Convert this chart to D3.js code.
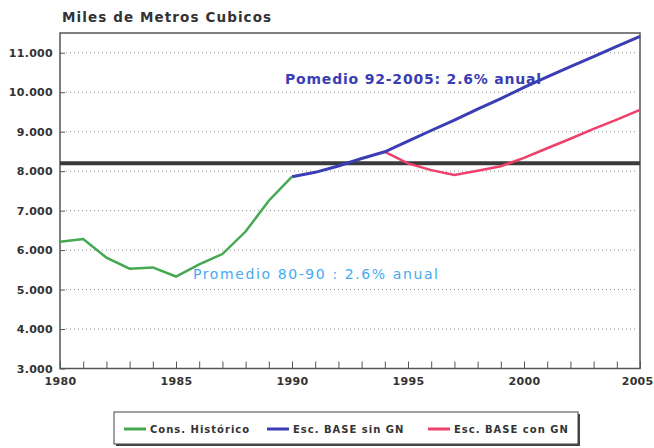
<!DOCTYPE html>
<html>
<head>
<meta charset="utf-8">
<script src="https://cdn.jsdelivr.net/npm/d3@7"></script>
<style>
  body { margin: 0; background: #fff; }
  text { font-family: "DejaVu Sans", sans-serif; }
</style>
</head>
<body>
<div id="chart"></div>
<script>
// historical consumption (1980-1990)
var histYears = [1980, 1981, 1982, 1983, 1984, 1985, 1986, 1987, 1988, 1989, 1990];
var histValues = [6210, 6280, 5810, 5530, 5560, 5330, 5640, 5900, 6470, 7250, 7860];

// base scenario without natural gas (1990-2005)
var sinYears = [1990, 1991, 1992, 1993, 1994, 1995, 1996, 1997, 1998, 1999, 2000, 2001, 2002, 2003, 2004, 2005];
var sinValues = [7860, 7970, 8130, 8320, 8490, 8760, 9030, 9295, 9570, 9840, 10120, 10390, 10650, 10900, 11160, 11415];

// base scenario with natural gas (1994-2005)
var conYears = [1994, 1995, 1996, 1997, 1998, 1999, 2000, 2001, 2002, 2003, 2004, 2005];
var conValues = [8490, 8195, 8025, 7900, 8010, 8125, 8335, 8580, 8820, 9070, 9305, 9550];

var refLevel = 8200;

var yTicks = [3000, 4000, 5000, 6000, 7000, 8000, 9000, 10000, 11000];
var xLabelYears = [1980, 1985, 1990, 1995, 2000, 2005];

var legendLabels = ["Cons. Histórico", "Esc. BASE sin GN", "Esc. BASE con GN"];
var colors = ["#43a84f", "#3a3db3", "#ef3f6b"];

function draw() {
    var svg = d3.select("#chart")
        .append("svg")
        .attr("width", 654)
        .attr("height", 448);

    var x = d3.scaleLinear().domain([1980, 2005]).range([60, 640]);
    var y = d3.scaleLinear().domain([3000, 11500]).range([368.5, 33]);

    var fmt = d3.formatLocale({decimal: ",", thousands: ".", grouping: [3], currency: ["", ""]}).format(",");

    // title
    svg.append("text")
        .attr("x", 62)
        .attr("y", 22)
        .style("font-size", "13.5px")
        .style("font-weight", "bold")
        .style("letter-spacing", "1.1px")
        .style("fill", "#333")
        .text("Miles de Metros Cubicos");

    // dotted grid
    svg.selectAll(".grid")
        .data(yTicks.filter(function(d) { return d > 3000; }))
        .enter()
        .append("line")
        .attr("x1", 66)
        .attr("x2", 638)
        .attr("y1", function(d) { return y(d); })
        .attr("y2", function(d) { return y(d); })
        .attr("stroke", "#8a8a8a")
        .attr("stroke-width", 1)
        .attr("stroke-dasharray", "1,3");

    // y axis
    var yAxis = svg.append("g")
        .attr("transform", "translate(60,0)")
        .call(d3.axisLeft(y).tickValues(yTicks).tickFormat(fmt).tickSizeInner(-5).tickSizeOuter(0).tickPadding(7));
    yAxis.select(".domain").remove();
    yAxis.selectAll("line").attr("stroke", "#555");
    yAxis.selectAll("text")
        .style("font-size", "11px")
        .style("font-weight", "bold")
        .style("letter-spacing", "0.3px")
        .style("fill", "#333")
        .style("font-family", "DejaVu Sans, sans-serif");

    // x axis
    var years = d3.range(1980, 2006);
    var xAxis = svg.append("g")
        .attr("transform", "translate(0,368.5)")
        .call(d3.axisBottom(x).tickValues(years).tickSizeInner(-7).tickSizeOuter(0).tickPadding(9)
            .tickFormat(function(d) { return xLabelYears.indexOf(d) >= 0 ? d : ""; }));
    xAxis.select(".domain").remove();
    xAxis.selectAll("line").attr("stroke", "#555");
    xAxis.selectAll("text")
        .style("font-size", "11px")
        .style("font-weight", "bold")
        .style("letter-spacing", "0.3px")
        .style("fill", "#333")
        .style("font-family", "DejaVu Sans, sans-serif");
    // keep the last year label inside the page
    xAxis.selectAll(".tick")
        .filter(function(d) { return d === 2005; })
        .select("text")
        .attr("text-anchor", "end")
        .attr("x", 13);

    // plot frame
    svg.append("rect")
        .attr("x", 60)
        .attr("y", 33)
        .attr("width", 580)
        .attr("height", 335.5)
        .attr("fill", "none")
        .attr("stroke", "#555")
        .attr("stroke-width", 1.5);

    // reference level
    svg.append("line")
        .attr("x1", x(1980))
        .attr("x2", x(2005))
        .attr("y1", y(refLevel))
        .attr("y2", y(refLevel))
        .attr("stroke", "#3a3a3a")
        .attr("stroke-width", 4);

    var line = d3.line()
        .x(function(d) { return x(d[0]); })
        .y(function(d) { return y(d[1]); });

    var series = [
        d3.zip(histYears, histValues),
        d3.zip(sinYears, sinValues),
        d3.zip(conYears, conValues)
    ];

    svg.append("path")
        .datum(series[2])
        .attr("d", line)
        .attr("fill", "none")
        .attr("stroke", colors[2])
        .attr("stroke-width", 2.5);

    svg.append("path")
        .datum(series[1])
        .attr("d", line)
        .attr("fill", "none")
        .attr("stroke", colors[1])
        .attr("stroke-width", 3);

    svg.append("path")
        .datum(series[0])
        .attr("d", line)
        .attr("fill", "none")
        .attr("stroke", colors[0])
        .attr("stroke-width", 2.5);

    // annotations
    svg.append("text")
        .attr("x", 285)
        .attr("y", 84)
        .style("font-size", "14px")
        .style("font-weight", "bold")
        .style("letter-spacing", "0.8px")
        .style("fill", "#3a3db3")
        .text("Pomedio 92-2005: 2.6% anual");

    svg.append("text")
        .attr("x", 193)
        .attr("y", 279)
        .style("font-size", "14px")
        .style("letter-spacing", "1.6px")
        .style("fill", "#45aaf0")
        .text("Promedio 80-90 : 2.6% anual");

    // legend
    svg.append("rect")
        .attr("x", 116)
        .attr("y", 414)
        .attr("width", 464)
        .attr("height", 32)
        .attr("fill", "#444");
    svg.append("rect")
        .attr("x", 114)
        .attr("y", 412)
        .attr("width", 464)
        .attr("height", 32)
        .attr("fill", "#fff")
        .attr("stroke", "#444")
        .attr("stroke-width", 1);

    var legendX = [124, 267, 428];
    var items = svg.selectAll(".legend")
        .data(legendLabels)
        .enter()
        .append("g")
        .attr("transform", function(d, i) { return "translate(" + legendX[i] + ",429)"; });

    items.append("line")
        .attr("x1", 0)
        .attr("x2", 22)
        .attr("stroke", function(d, i) { return colors[i]; })
        .attr("stroke-width", 3);

    items.append("text")
        .attr("x", 26)
        .attr("dy", "0.35em")
        .style("font-size", "10px")
        .style("font-weight", "bold")
        .style("letter-spacing", "1px")
        .style("fill", "#333")
        .text(function(d) { return d; });
}

draw();
</script>
</body>
</html>
